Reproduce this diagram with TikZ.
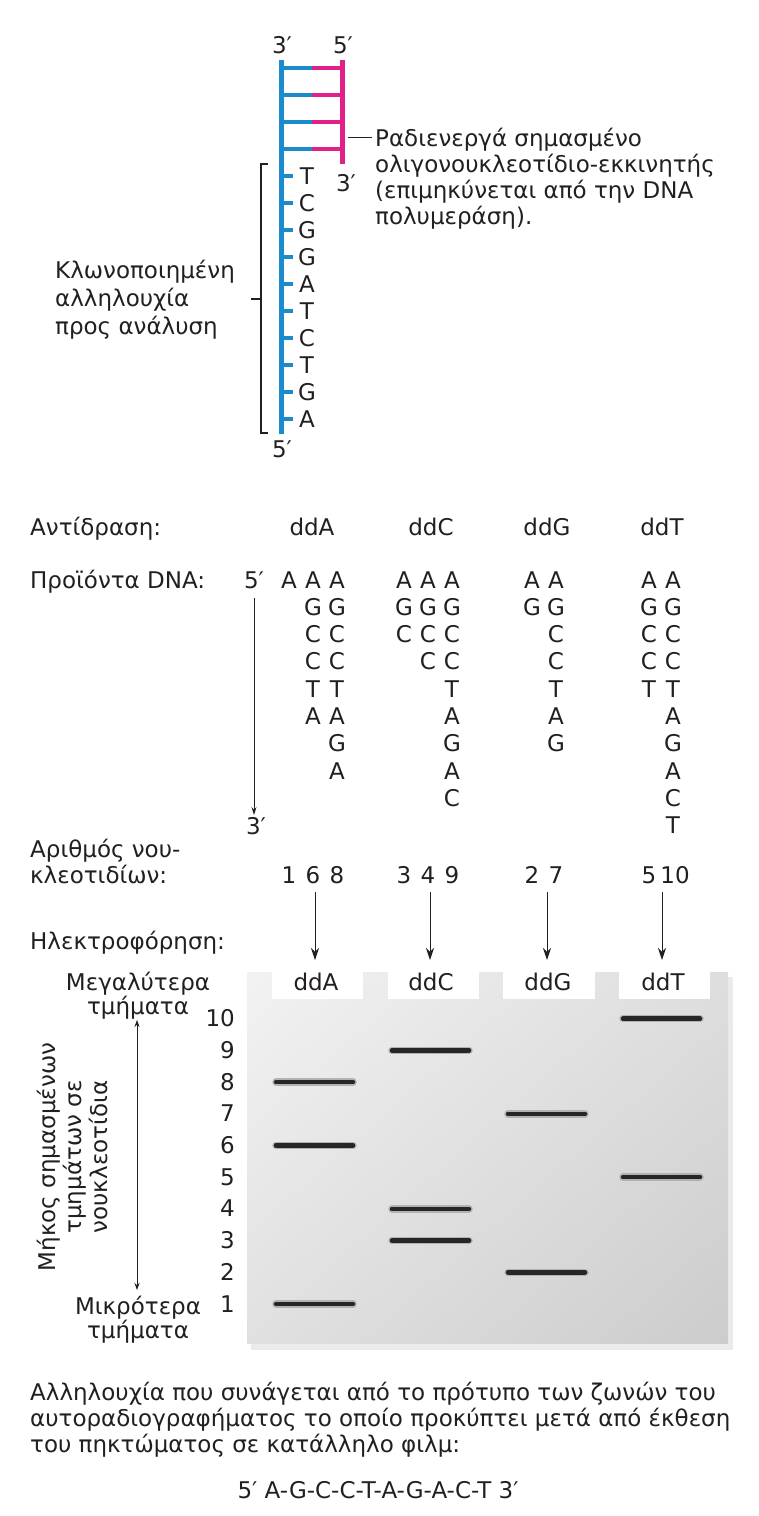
\documentclass[tikz,border=0pt]{standalone}
\usepackage{fontspec}
\setmainfont{DejaVu Sans}
\usetikzlibrary{arrows.meta,shadings}
\definecolor{dnablue}{HTML}{1B8BCB}
\definecolor{dnapink}{HTML}{E2208A}
\definecolor{ink}{HTML}{231F20}
\newcommand\prodcol[3]{%
  \foreach \L [count=\i] in {A,G,C,C,T,A,G,A,C,T}{%
    \ifnum\i>#2\relax\else
      \node[ctr] (#3-\i) at (#1,{588+27.3*(\i-1)}) {\L};%
    \fi}}
\begin{document}
\begin{tikzpicture}[x=1pt,y=-1pt,
  txt/.style={font=\fontsize{23}{27}\selectfont, inner sep=0pt, text=ink},
  lft/.style={txt,anchor=base west},
  ctr/.style={txt,anchor=base},
  arr/.style={draw=ink, line width=1pt, -{Stealth[length=12pt,width=8pt]}},
  band/.style={line width=4.5pt, draw=black!85, line cap=round},
  bandglow/.style={line width=7.5pt, draw=black!30, line cap=round},
  blueline/.style={draw=dnablue, line width=5pt},
  pinkline/.style={draw=dnapink, line width=5pt},
  basetick/.style={draw=dnablue, line width=4pt},
  brk/.style={draw=ink, line width=1.2pt},
]
\useasboundingbox (0,0) rectangle (758,1516);

% ---------- top DNA ----------
\node[ctr] (t3) at (282,53) {3′};
\node[ctr] (t5) at (343,53) {5′};
\foreach \y [count=\k] in {68,95,122,149}{
  \coordinate (rL\k) at (281,\y); \coordinate (rM\k) at (312,\y); \coordinate (rR\k) at (342,\y);
  \draw[blueline, line width=4.5pt] (rL\k) -- (rM\k);
  \draw[pinkline, line width=4.5pt] (rM\k) -- (rR\k);
}
\coordinate (bTop) at (281,60);
\coordinate (bBot) at (281,434);
\coordinate (pTop) at (342,60);
\coordinate (pBot) at (342,164);
\draw[blueline] (bTop) -- (bBot);
\draw[pinkline] (pTop) -- (pBot);
\node[ctr] (p3) at (346,191) {3′};
\node[ctr] (b5) at (282,457) {5′};

\foreach \b [count=\i from 0] in {T,C,G,G,A,T,C,T,G,A}{
  \coordinate (k\i) at (281,{176+27*\i});
  \coordinate (ke\i) at (293,{176+27*\i});
  \draw[basetick] (k\i) -- (ke\i);
  \node[ctr] (base\i) at (307,{184+27*\i}) {\b};
}

% primer label
\coordinate (ptrS) at (348,137);
\coordinate (ptrE) at (372,137);
\draw[ink, line width=1pt] (ptrS) -- (ptrE);
\node[lft] (pl1) at (375,146) {Ραδιενεργά σημασμένο};
\node[lft] (pl2) at (375,172) {ολιγονουκλεοτίδιο-εκκινητής};
\node[lft] (pl3) at (375,198) {(επιμηκύνεται από την DNA};
\node[lft] (pl4) at (375,224) {πολυμεράση).};

% bracket and left label
\coordinate (bk1) at (268,164); \coordinate (bk2) at (261,164);
\coordinate (bk3) at (261,433); \coordinate (bk4) at (268,433);
\coordinate (bk5) at (261,299); \coordinate (bk6) at (251,299);
\draw[brk] (bk1) -- (bk2) -- (bk3) -- (bk4);
\draw[brk] (bk5) -- (bk6);
\node[lft] (cl1) at (55,278) {Κλωνοποιημένη};
\node[lft] (cl2) at (55,306) {αλληλουχία};
\node[lft] (cl3) at (55,334) {προς ανάλυση};

% ---------- reactions ----------
\node[lft] (react) at (30,535) {Αντίδραση:};
\node[ctr] (rA) at (312,535) {ddA};
\node[ctr] (rC) at (431,535) {ddC};
\node[ctr] (rG) at (547,535) {ddG};
\node[ctr] (rT) at (662,535) {ddT};

\node[lft] (prod) at (30,588) {Προϊόντα DNA:};
\node[ctr] (p5) at (254,588) {5′};
\node[ctr] (p3b) at (256,834) {3′};
\coordinate (pa1) at (254,598);
\coordinate (pa2) at (254,815);
\draw[ink, line width=0.8pt, -{Stealth[length=8pt,width=5pt]}] (pa1) -- (pa2);

\prodcol{289}{1}{A1}
\prodcol{313}{6}{A6}
\prodcol{337}{8}{A8}
\prodcol{404}{3}{C3}
\prodcol{428}{4}{C4}
\prodcol{452}{9}{C9}
\prodcol{532}{2}{G2}
\prodcol{556}{7}{G7}
\prodcol{649}{5}{T5}
\prodcol{673}{10}{T10}

\node[lft] (num1) at (30,857) {Αριθμός νου-};
\node[lft] (num2) at (30,883) {κλεοτιδίων:};
\node[ctr] (n1) at (289,883) {1};
\node[ctr] (n6) at (313,883) {6};
\node[ctr] (n8) at (337,883) {8};
\node[ctr] (n3) at (404,883) {3};
\node[ctr] (n4) at (428,883) {4};
\node[ctr] (n9) at (452,883) {9};
\node[ctr] (n2) at (532,883) {2};
\node[ctr] (n7) at (556,883) {7};
\node[ctr] (n5) at (649,883) {5};
\node[ctr] (n10) at (675,883) {10};

\node[lft] (elec) at (30,949) {Ηλεκτροφόρηση:};

% ---------- gel ----------
\fill[black!8] (251,977) rectangle (733,1350);
\shade[upper left=black!5, upper right=black!13, lower left=black!12, lower right=black!20]
  (247,972) rectangle (728,1343);
\foreach \xa/\xb in {272/363, 388/479, 503/595, 619/710}{
  \fill[white] (\xa,968) rectangle (\xb,999);
}
\node[ctr] (wA) at (316,990) {ddA};
\node[ctr] (wC) at (431,990) {ddC};
\node[ctr] (wG) at (548,990) {ddG};
\node[ctr] (wT) at (663,990) {ddT};

\foreach \x/\nm in {315/A, 430/C, 547/G, 662/T}{
  \coordinate (as\nm) at (\x,892);
  \coordinate (ae\nm) at (\x,960);
  \draw[arr] (as\nm) -- (ae\nm);
}

\foreach \xa/\xb/\n in {276/353/8, 276/353/6, 276/353/1,
                        392/469/9, 392/469/4, 392/469/3,
                        508/585/7, 508/585/2,
                        623/700/10, 623/700/5}{
  \draw[bandglow] (\xa,{1304-(\n-1)*31.7}) -- (\xb,{1304-(\n-1)*31.7});
  \draw[band] (\xa,{1304-(\n-1)*31.7}) -- (\xb,{1304-(\n-1)*31.7});
}
\foreach \n in {1,...,10}{
  \node[txt,anchor=base east] (g\n) at (235,{1304-(\n-1)*31.7+8}) {\n};
}

\node[ctr] (big1) at (138,990) {Μεγαλύτερα};
\node[ctr] (big2) at (138,1014) {τμήματα};
\node[ctr] (sm1) at (138,1314) {Μικρότερα};
\node[ctr] (sm2) at (138,1338) {τμήματα};
\coordinate (dTop) at (137,1020);
\coordinate (dBot) at (137,1290);
\draw[ink, line width=0.8pt, {Stealth[length=7pt,width=5pt]}-{Stealth[length=7pt,width=5pt]}] (dTop) -- (dBot);
\node[txt, rotate=90, anchor=base] (rot1) at (55,1157) {Μήκος σημασμένων};
\node[txt, rotate=90, anchor=base] (rot2) at (81,1157) {τμημάτων σε};
\node[txt, rotate=90, anchor=base] (rot3) at (107,1157) {νουκλεοτίδια};

% ---------- bottom ----------
\node[lft] (bt1) at (30,1400) {Αλληλουχία που συνάγεται από το πρότυπο των ζωνών του};
\node[lft] (bt2) at (30,1426) {αυτοραδιογραφήματος το οποίο προκύπτει μετά από έκθεση};
\node[lft] (bt3) at (30,1452) {του πηκτώματος σε κατάλληλο φιλμ:};
\node[ctr] (seq) at (378,1498) {5′ A-G-C-C-T-A-G-A-C-T 3′};
\end{tikzpicture}
\end{document}
